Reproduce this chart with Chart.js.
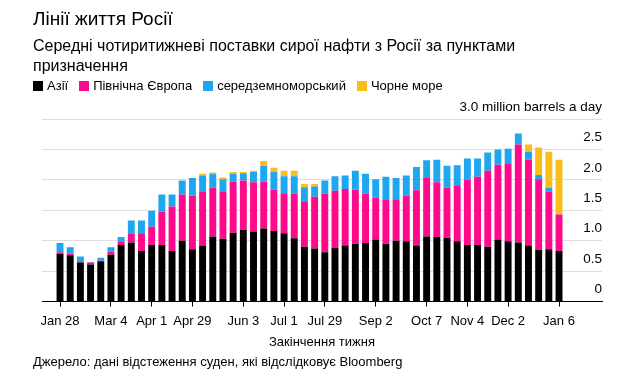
<!DOCTYPE html>
<html>
<head>
<meta charset="utf-8">
<script src="https://cdn.jsdelivr.net/npm/chart.js@4.4.1/dist/chart.umd.min.js"></script>
<style>
  html, body { margin: 0; padding: 0; background: #fff; }
  #wrap { position: relative; width: 640px; height: 381px; font-family: "Liberation Sans", Arial, sans-serif; color: #000; }
  #chart { position: absolute; left: 0; top: 0; }
  .title { position: absolute; left: 33px; top: 9px; font-size: 19px; line-height: 20px; font-weight: normal; }
  .subtitle { position: absolute; left: 33px; top: 36px; font-size: 16px; line-height: 20px; width: 580px; }
  .legend { position: absolute; left: 33px; top: 78px; display: flex; font-size: 13px; line-height: 16px; }
  .legend .item { display: flex; align-items: center; margin-right: 11px; }
  .legend .sw { width: 10px; height: 10px; margin-right: 4px; }
  .source { position: absolute; left: 33px; top: 354px; font-size: 13px; line-height: 16px; }
</style>
</head>
<body>
<div id="wrap">
  <canvas id="chart" width="640" height="381"></canvas>
  <div class="title">Лінії життя Росії</div>
  <div class="subtitle">Середні чотиритижневі поставки сирої нафти з Росії за пунктами призначення</div>
  <div class="legend" id="legend"></div>
  <div class="source">Джерело: дані відстеження суден, які відслідковує Bloomberg</div>
</div>
<script>
// Week-ending dates (categories)
const weeks = ['Jan 28','Feb 4','Feb 11','Feb 18','Feb 25','Mar 4','Mar 11','Mar 18','Mar 25','Apr 1',
  'Apr 8','Apr 15','Apr 22','Apr 29','May 6','May 13','May 20','May 27','Jun 3','Jun 10',
  'Jun 17','Jun 24','Jul 1','Jul 8','Jul 15','Jul 22','Jul 29','Aug 5','Aug 12','Aug 19',
  'Aug 26','Sep 2','Sep 9','Sep 16','Sep 23','Sep 30','Oct 7','Oct 14','Oct 21','Oct 28',
  'Nov 4','Nov 11','Nov 18','Nov 25','Dec 2','Dec 9','Dec 16','Dec 23','Dec 30','Jan 6'];

// Labelled ticks on the x axis
const tickLabels = ['Jan 28','Mar 4','Apr 1','Apr 29','Jun 3','Jul 1','Jul 29','Sep 2','Oct 7','Nov 4','Dec 2','Jan 6'];

// Series (million barrels a day)
const asia = [0.78,0.76,0.64,0.61,0.66,0.77,0.93,0.97,0.83,0.93,
  0.93,0.83,1.00,0.86,0.92,1.07,1.03,1.13,1.18,1.15,
  1.20,1.16,1.12,1.04,0.90,0.87,0.81,0.88,0.92,0.95,
  0.96,1.02,0.95,1.00,0.99,0.92,1.07,1.06,1.05,0.99,
  0.93,0.93,0.90,1.02,0.99,0.97,0.92,0.85,0.86,0.83];
const northEurope = [0.03,0.03,0.02,0.03,0.01,0.05,0.06,0.14,0.29,0.30,
  0.55,0.73,0.76,0.88,0.88,0.80,0.77,0.84,0.81,0.81,
  0.77,0.68,0.66,0.73,0.75,0.85,0.96,0.94,0.93,0.89,
  0.81,0.69,0.73,0.68,0.75,0.91,0.96,0.90,0.82,0.91,
  1.07,1.12,1.25,1.23,1.27,1.61,1.41,1.16,0.95,0.60];
const mediterranean = [0.15,0.10,0.08,0.01,0.05,0.07,0.07,0.22,0.21,0.26,
  0.28,0.20,0.23,0.29,0.27,0.23,0.21,0.13,0.12,0.17,
  0.26,0.29,0.28,0.29,0.23,0.17,0.22,0.24,0.22,0.31,
  0.33,0.30,0.37,0.35,0.33,0.38,0.29,0.37,0.36,0.34,
  0.35,0.30,0.30,0.25,0.25,0.18,0.13,0.07,0.06,0.00];
const blackSea = [0,0,0,0,0,0,0,0,0,0,
  0,0,0,0,0.03,0.02,0.03,0.03,0.02,0.02,
  0.08,0.07,0.09,0.09,0.05,0.04,0,0,0,0,
  0,0,0,0,0,0,0,0,0,0,
  0,0,0,0,0,0,0.12,0.45,0.59,0.90];

const seriesNames = ['Азії','Північна Європа','середземноморський','Чорне море'];
const seriesColors = ['#000000','#ff0a8c','#1ea7ee','#fbbd1a'];
const seriesData = [asia, northEurope, mediterranean, blackSea];

const datasets = seriesData.map((arr, k) => ({
  label: seriesNames[k],
  data: arr.map((v, i) => ({ x: i, y: v })),
  backgroundColor: seriesColors[k],
  borderWidth: 0,
  barPercentage: 0.68,
  categoryPercentage: 1.0
}));

// HTML legend from datasets
const leg = document.getElementById('legend');
datasets.forEach(d => {
  const it = document.createElement('div'); it.className = 'item';
  const sw = document.createElement('div'); sw.className = 'sw'; sw.style.background = d.backgroundColor;
  const tx = document.createElement('span'); tx.textContent = d.label;
  it.appendChild(sw); it.appendChild(tx); leg.appendChild(it);
});

const tickIdx = tickLabels.map(l => weeks.indexOf(l));
const FONT = '"Liberation Sans", Arial, sans-serif';

new Chart(document.getElementById('chart'), {
  type: 'bar',
  data: { datasets },
  options: {
    responsive: false,
    animation: false,
    layout: { padding: { left: 42, right: 38, top: 119, bottom: 32.5 } },
    plugins: { legend: { display: false }, tooltip: { enabled: false }, title: { display: false } },
    scales: {
      x: {
        type: 'linear',
        stacked: true,
        offset: false,
        min: -1.77,
        max: 53.22,
        afterBuildTicks: (s) => { s.ticks = tickIdx.map(v => ({ value: v })); },
        ticks: {
          autoSkip: false, maxRotation: 0, minRotation: 0, padding: 8,
          color: '#000', font: { family: FONT, size: 13, lineHeight: 1.0 },
          callback: (v) => weeks[v] || ''
        },
        grid: { offset: false, drawOnChartArea: false, drawTicks: true, tickLength: 5, color: '#000', lineWidth: 1 },
        border: { display: true, color: '#000', width: 1 },
        title: { display: true, text: 'Закінчення тижня', color: '#000', font: { family: FONT, size: 13, lineHeight: 1.0 }, padding: { top: 0, bottom: 0 } }
      },
      y: {
        position: 'right',
        stacked: true,
        min: 0, max: 3,
        ticks: {
          stepSize: 0.5, mirror: true, padding: 0, labelOffset: -12,
          color: '#000', font: { family: FONT, size: 13.5 },
          callback: (v) => v === 3 ? '3.0 million barrels a day' : (v === 0 ? '0' : v.toFixed(1))
        },
        grid: { color: '#dedede', drawTicks: false, lineWidth: 1 },
        border: { display: false }
      }
    }
  }
});
</script>
</body>
</html>
